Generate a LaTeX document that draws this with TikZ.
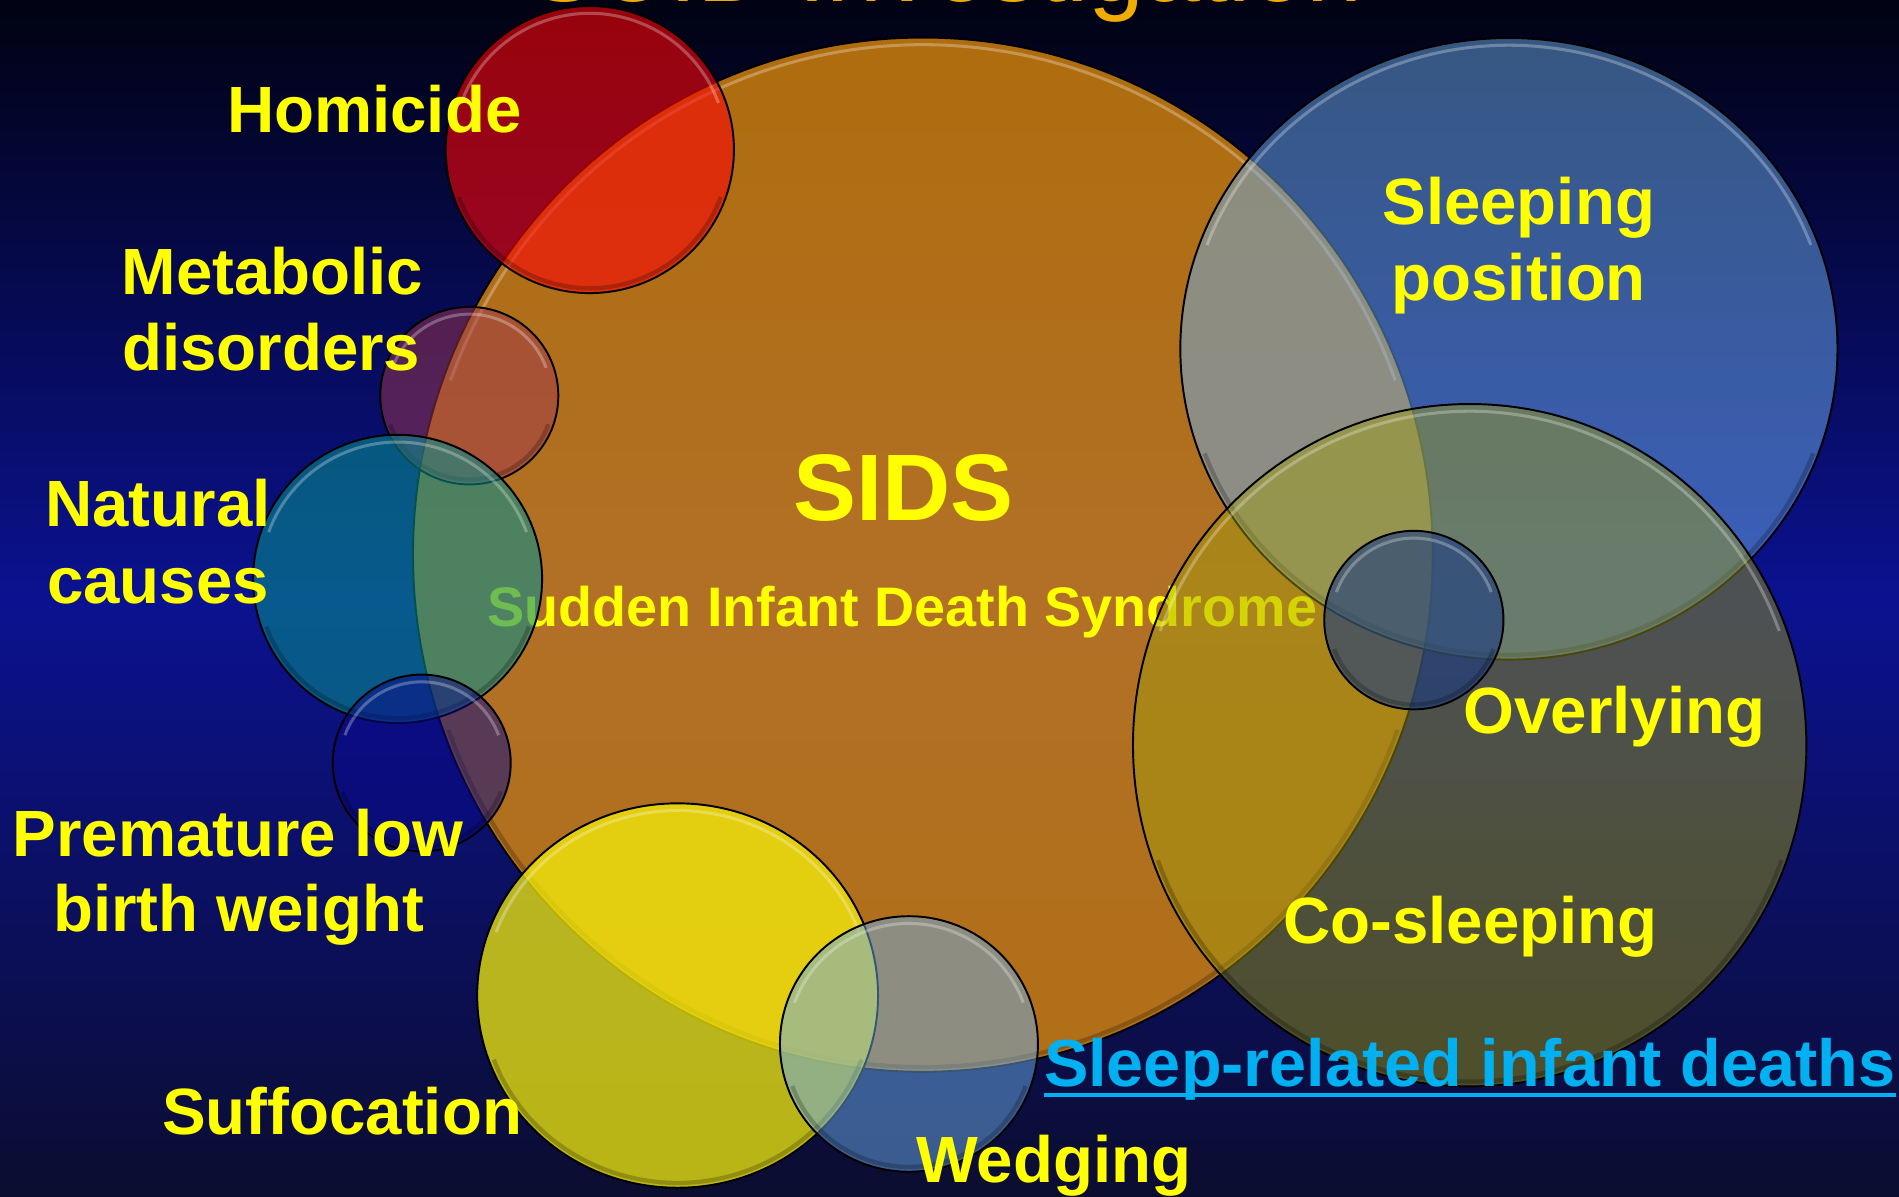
\documentclass[tikz,border=0pt]{standalone}
\usepackage{fontspec}
\setmainfont{Liberation Sans}
\usetikzlibrary{shapes.geometric}
\definecolor{bgtop}{HTML}{010212}
\definecolor{bgq1}{HTML}{060A52}
\definecolor{bgmid}{HTML}{0B1290}
\definecolor{bgq3}{HTML}{0B0F62}
\definecolor{bgbot}{HTML}{0B0D30}
\definecolor{cSIDS}{HTML}{DB880C}
\definecolor{cRed}{HTML}{FC0407}
\definecolor{cPurple}{HTML}{A2364E}
\definecolor{cTeal}{HTML}{068E8C}
\definecolor{cNavy}{HTML}{0A0987}
\definecolor{cYellow}{HTML}{F6F00C}
\definecolor{cSky}{HTML}{6CACEA}
\definecolor{cOlive}{HTML}{A19F0D}
\definecolor{cSmall}{HTML}{193A82}
\definecolor{labyellow}{HTML}{FFFF00}
\definecolor{cyanlab}{HTML}{00B0F0}
\definecolor{titlegold}{HTML}{F0AC00}
\tikzset{
  bub/.style={ellipse, draw=black, line width=1.6pt, inner sep=0pt, outer sep=0pt},
  hilite/.style={white, opacity=0.28, line width=2.5pt},
  rimdark/.style={black, opacity=0.22, line width=3.5pt},
  lab/.style={text=labyellow, font=\bfseries\fontsize{54}{63}\selectfont, inner sep=0pt, anchor=base},
  sidslab/.style={text=labyellow, font=\bfseries\fontsize{78}{80}\selectfont, inner sep=0pt, anchor=base},
  subslab/.style={text=labyellow, font=\bfseries\fontsize{46}{50}\selectfont, inner sep=0pt, anchor=base},
  cyanlabel/.style={text=cyanlab, font=\bfseries\fontsize{55}{60}\selectfont, inner sep=0pt, anchor=base},
  titlelab/.style={text=titlegold, font=\fontsize{83}{90}\selectfont, inner sep=0pt, anchor=base},
  underl/.style={draw=cyanlab, line width=2.8pt}
}
\newcommand\bubble[7]{%
  \node[bub, fill=#6, fill opacity=#7, minimum width={2*#4pt}, minimum height={2*#5pt}] (#1) at (#2,-#3) {};
  \draw[hilite] ({#2+(#4-6)*cos(20)},{-#3+(#5-6)*sin(20)}) arc[start angle=20, end angle=160, x radius={#4-6}, y radius={#5-6}];
  \draw[rimdark] ({#2+(#4-4)*cos(200)},{-#3+(#5-4)*sin(200)}) arc[start angle=200, end angle=340, x radius={#4-4}, y radius={#5-4}];
}
\begin{document}
\begin{tikzpicture}[x=1pt,y=1pt]
\useasboundingbox (0,0) rectangle (1568,-988);
\clip (0,0) rectangle (1568,-988);
% background
\shade[top color=bgtop, middle color=bgq1, bottom color=bgmid] (0,0) rectangle (1568,-495);
\shade[top color=bgmid, middle color=bgq3, bottom color=bgbot] (0,-494) rectangle (1568,-988);
% title (cut off at the top)
\node[titlelab] (title) at (781.5,-1) {SUID Investigation};
% SIDS circle
\bubble{sids}{762}{458}{421}{427}{cSIDS}{0.8}
\node[sidslab] (sidstext) at (746,-430) {SIDS};
\node[subslab] (sudden) at (745,-517) {Sudden Infant Death Syndrome};
% other circles
\bubble{homicide}{487}{123.5}{119}{118.5}{cRed}{0.6}
\bubble{metabolic}{387.5}{326.7}{73.5}{73.3}{cPurple}{0.5}
\bubble{natural}{328.3}{478}{119.3}{119}{cTeal}{0.58}
\bubble{premature}{348.2}{630}{73.5}{73}{cNavy}{0.52}
\bubble{suffocation}{559.5}{822}{165.5}{158.7}{cYellow}{0.74}
\bubble{wedging}{750.5}{862}{106.5}{105.5}{cSky}{0.5}
\bubble{sleeping}{1245.9}{288}{271.3}{256.6}{cSky}{0.5}
\bubble{overlying}{1213.5}{615.3}{278}{281.7}{cOlive}{0.45}
\bubble{inner}{1167.4}{512}{74}{73.7}{cSmall}{0.6}
% labels
\node[lab] (lhom) at (309,-109) {Homicide};
\node[lab] (lmet1) at (225,-243) {Metabolic};
\node[lab] (lmet2) at (224,-306) {disorders};
\node[lab] (lnat1) at (130.5,-435) {Natural};
\node[lab] (lnat2) at (130.5,-498) {causes};
\node[lab] (lpre1) at (196.5,-707) {Premature low};
\node[lab] (lpre2) at (197,-769) {birth weight};
\node[lab] (lsuf) at (282.5,-937) {Suffocation};
\node[lab] (lwed) at (870,-976) {Wedging};
\node[lab] (lsle1) at (1254,-185) {Sleeping};
\node[lab] (lsle2) at (1254,-248) {position};
\node[lab] (lover) at (1333,-606) {Overlying};
\node[lab] (lcos) at (1214,-779) {Co-sleeping};
\node[cyanlabel] (srid) at (1213.5,-897) {Sleep-related infant deaths};
\draw[underl] ([yshift=-7pt]srid.base west) -- ([yshift=-7pt]srid.base east);
\end{tikzpicture}
\end{document}
